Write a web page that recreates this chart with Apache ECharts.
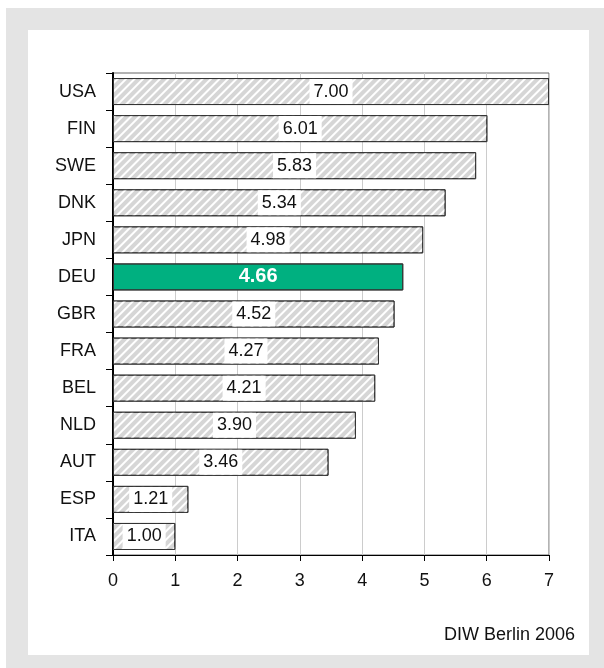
<!DOCTYPE html>
<html>
<head>
<meta charset="utf-8">
<style>
  html, body { margin: 0; padding: 0; background: #ffffff; }
  #frame { position: absolute; left: 6px; top: 8px; width: 598px; height: 660px; background: #e4e4e4; }
  #chart { position: absolute; left: 0; top: 0; width: 604px; height: 668px; }
</style>
<script src="https://cdn.jsdelivr.net/npm/echarts@6/dist/echarts.min.js"></script>
</head>
<body>
<div id="frame"></div>
<div id="chart"></div>
<script>
// Länder (von oben nach unten)
var countries = ['USA', 'FIN', 'SWE', 'DNK', 'JPN', 'DEU', 'GBR', 'FRA', 'BEL', 'NLD', 'AUT', 'ESP', 'ITA']
var values = [7.00, 6.01, 5.83, 5.34, 4.98, 4.66, 4.52, 4.27, 4.21, 3.90, 3.46, 1.21, 1.00]
var highlight = 'DEU'
var xTicks = [0, 1, 2, 3, 4, 5, 6, 7]
var source = 'DIW Berlin 2006'

var chart = echarts.init(document.getElementById('chart'))

var hatch = {
  symbol: 'rect',
  symbolSize: 1,
  color: '#ffffff',
  dashArrayX: [1, 0],
  dashArrayY: [2, 4],
  rotation: -Math.PI / 4
}

var barData = values.map(function (v, i) {
  if (countries[i] === highlight) {
    return {
      value: v,
      itemStyle: {
        color: '#00b080',
        borderColor: '#333',
        decal: { symbol: 'rect', color: 'rgba(0,0,0,0)', dashArrayX: [1, 0], dashArrayY: [2, 4] }
      },
      label: { color: '#fff', fontWeight: 'bold', fontSize: 20, backgroundColor: 'transparent' }
    }
  }
  return { value: v }
})

chart.setOption({
  backgroundColor: 'transparent',
  textStyle: { fontFamily: 'Liberation Sans, Arial, sans-serif' },
  graphic: [
    { type: 'rect', shape: { x: 28, y: 30, width: 561, height: 625 }, style: { fill: '#fff' }, z: -10 },
    {
      type: 'text', right: 604 - 575, top: 626,
      style: { text: source, fontSize: 18, fill: '#111', fontFamily: 'Liberation Sans, Arial, sans-serif' }
    }
  ],
  grid: {
    left: 113, right: 55, top: 73, bottom: 113,
    show: true, borderColor: '#666', borderWidth: 1, backgroundColor: 'transparent'
  },
  xAxis: {
    type: 'value',
    min: xTicks[0],
    max: xTicks[xTicks.length - 1],
    interval: 1,
    axisLine: { show: true, lineStyle: { color: '#000', width: 1 } },
    axisTick: { show: true, length: 6, lineStyle: { color: '#000' } },
    axisLabel: { color: '#111', fontSize: 18, margin: 17 },
    splitLine: { show: true, lineStyle: { color: '#cccccc', width: 1 } }
  },
  yAxis: {
    type: 'category',
    data: countries,
    inverse: true,
    axisLine: { show: true, lineStyle: { color: '#000', width: 2 } },
    axisTick: { show: true, length: 7, lineStyle: { color: '#000' } },
    axisLabel: { color: '#111', fontSize: 18, margin: 17 },
    splitLine: { show: false }
  },
  series: [{
    type: 'bar',
    data: barData,
    barWidth: 27,
    itemStyle: {
      color: '#d6d6d6',
      borderColor: '#333',
      borderWidth: 1,
      decal: hatch
    },
    label: {
      show: true,
      position: 'inside',
      formatter: function (p) { return p.value.toFixed(2) },
      color: '#111',
      fontSize: 18,
      backgroundColor: '#fff',
      padding: [4, 4, 3, 4]
    },
    animation: false
  }]
})
</script>
</body>
</html>
